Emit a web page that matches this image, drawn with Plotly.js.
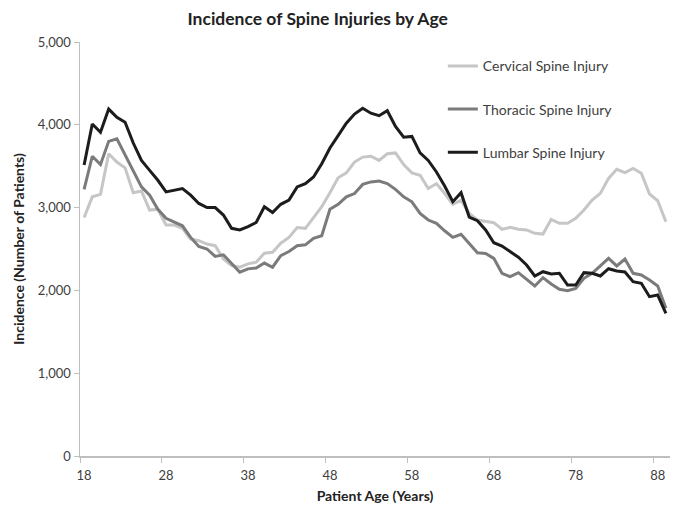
<!DOCTYPE html>
<html>
<head>
<meta charset="utf-8">
<script src="https://cdn.plot.ly/plotly-3.0.1.min.js"></script>
<style>html,body{margin:0;padding:0;background:#fff;}#chart{width:676px;height:507px;}</style>
</head>
<body>
<div id="chart"></div>
<script>
const ages = [];
for (let a = 18; a <= 89; a++) ages.push(a);

const seriesNames = ["Cervical Spine Injury", "Thoracic Spine Injury", "Lumbar Spine Injury"];

const cervical = [2880,3130,3160,3650,3550,3480,3180,3200,2970,2980,
  2790,2790,2750,2620,2600,2560,2540,2380,2300,2280,
  2320,2340,2450,2460,2570,2640,2760,2750,2880,3010,
  3180,3360,3420,3550,3610,3620,3570,3650,3660,3520,
  3420,3390,3230,3290,3170,3040,3090,2930,2850,2830,
  2818,2738,2761,2738,2730,2690,2680,2858,2810,2810,
  2870,2971,3092,3172,3353,3462,3422,3474,3414,3164,
  3083,2830];

const thoracic = [3220,3620,3520,3800,3830,3640,3440,3250,3150,2980,
  2870,2820,2780,2640,2530,2500,2410,2430,2320,2220,
  2260,2270,2330,2280,2420,2470,2540,2550,2630,2660,
  2980,3040,3130,3170,3280,3310,3320,3290,3220,3130,
  3070,2930,2850,2810,2720,2640,2678,2569,2455,2447,
  2387,2206,2166,2214,2134,2053,2154,2077,2013,1997,
  2025,2146,2206,2295,2387,2295,2379,2206,2186,2126,
  2053,1784];

const lumbar = [3515,4010,3910,4190,4090,4030,3780,3570,3450,3330,
  3190,3210,3230,3150,3050,3000,3000,2910,2750,2730,
  2770,2820,3010,2940,3040,3090,3250,3290,3370,3530,
  3720,3870,4020,4130,4200,4140,4110,4170,3980,3850,
  3860,3660,3570,3430,3260,3071,3180,2886,2842,2730,
  2576,2536,2468,2400,2307,2174,2226,2198,2206,2065,
  2065,2214,2206,2174,2262,2234,2222,2105,2086,1924,
  1944,1723];

const yTicks = [0,1000,2000,3000,4000,5000];
const colors = ["#c6c6c6", "#7b7b7b", "#1c1c1c"];
const values = [cervical, thoracic, lumbar];

const traces = values.map((v, i) => ({
  x: ages.map(String),
  y: v,
  type: "scatter",
  mode: "lines",
  name: seriesNames[i],
  legendgroup: "g" + i,
  line: {color: colors[i], width: 3},
  hoverinfo: "x+y"
}));

const font = "Lato, 'Open Sans', sans-serif";
const layout = {
  width: 676, height: 507,
  margin: {l: 80, r: 6, t: 42, b: 51},
  paper_bgcolor: "#fff", plot_bgcolor: "#fff",
  font: {family: font, size: 12, color: "#404040"},
  title: {text: "<b>Incidence of Spine Injuries by Age</b>", x: 0.47, xanchor: "center", y: 0.962, yanchor: "middle",
    font: {family: font, size: 17.5, color: "#222"}},
  showlegend: true,
  legend: {x: 0.615, y: 0.98, xanchor: "left", yanchor: "top", traceorder: "grouped", tracegroupgap: 22,
    font: {family: font, size: 14, color: "#404040"}, bgcolor: "rgba(0,0,0,0)", itemwidth: 30},
  xaxis: {
    type: "category", range: [-0.5, 71.5], tickmode: "linear", tick0: 0, dtick: 10, tickangle: 0,
    tickson: "boundaries", ticks: "outside", ticklen: 5, tickcolor: "#bfbfbf", ticklabelstandoff: 7,
    showline: true, linecolor: "#bfbfbf", linewidth: 1.5, showgrid: false, zeroline: false,
    tickfont: {family: font, size: 13, color: "#404040"},
    title: {text: "<b>Patient Age (Years)</b>", standoff: 9, font: {family: font, size: 14, color: "#222"}}
  },
  yaxis: {
    range: [0, 5000], tickvals: yTicks, ticktext: yTicks.map(v => v.toLocaleString("en-US")),
    ticks: "outside", ticklen: 5, tickcolor: "#bfbfbf",
    showline: true, linecolor: "#bfbfbf", linewidth: 1.5, showgrid: false, zeroline: false,
    tickfont: {family: font, size: 13, color: "#404040"},
    title: {text: "<b>Incidence (Number of Patients)</b>", standoff: 10, font: {family: font, size: 14, color: "#222"}}
  }
};

Plotly.newPlot("chart", traces, layout, {displayModeBar: false, staticPlot: true});
</script>
</body>
</html>
